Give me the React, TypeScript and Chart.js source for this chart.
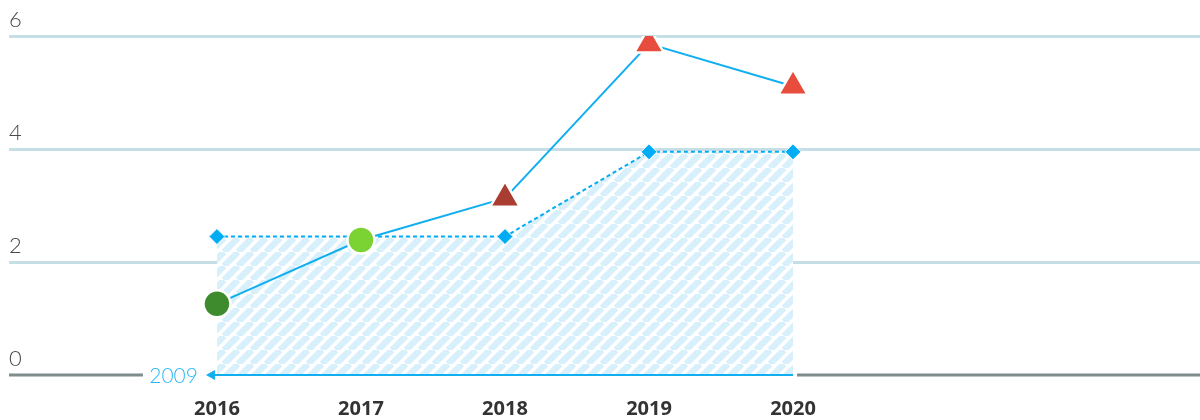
import React, { useEffect, useRef } from "react";
import { Chart, registerables } from "chart.js";

Chart.register(...registerables);

const years = [2016, 2017, 2018, 2019, 2020];
const actualValues = [1.26, 2.39, 3.13, 5.86, 5.11];
const targetValues = [2.45, 2.45, 2.45, 3.95, 3.95];
const pointColors = ["#3d8b2c", "#7ad332", "#a93d32", "#e74c3c", "#e74c3c"];
const pointStyles = ["circle", "circle", "triangle", "triangle", "triangle"];
const yTickValues = [0, 2, 4, 6];
const baselineLabel = "2009";
const xRange = [2014.556, 2022.826];

function makePattern(): CanvasPattern | string {
  const s = 14;
  const c = document.createElement("canvas");
  c.width = s;
  c.height = s;
  const g = c.getContext("2d");
  if (!g) return "#dcf1fb";
  g.fillStyle = "#ffffff";
  g.fillRect(0, 0, s, s);
  g.strokeStyle = "#d8f0fc";
  g.lineWidth = 6.5;
  g.beginPath();
  for (const o of [-s, 0, s]) {
    g.moveTo(o, s);
    g.lineTo(o + s, 0);
  }
  g.stroke();
  return g.createPattern(c, "repeat") || "#dcf1fb";
}

const baselinePlugin = {
  id: "baseline",
  afterDatasetsDraw(chart: any) {
    const { ctx, chartArea, scales } = chart;
    const y = scales.y.getPixelForValue(0);
    const xs = scales.x.getPixelForValue(years[0]);
    const xe = scales.x.getPixelForValue(years[years.length - 1]);
    ctx.save();
    ctx.lineWidth = 3;
    ctx.strokeStyle = "#7f8c8d";
    ctx.beginPath();
    ctx.moveTo(chartArea.left, y);
    ctx.lineTo(xs - 74, y);
    ctx.moveTo(xe + 4, y);
    ctx.lineTo(chartArea.right, y);
    ctx.stroke();
    ctx.strokeStyle = "#11aff0";
    ctx.lineWidth = 2;
    ctx.beginPath();
    ctx.moveTo(xs - 8, y);
    ctx.lineTo(xe, y);
    ctx.stroke();
    ctx.fillStyle = "#11aff0";
    ctx.beginPath();
    ctx.moveTo(xs - 11, y);
    ctx.lineTo(xs - 2, y - 5);
    ctx.lineTo(xs - 2, y + 5);
    ctx.closePath();
    ctx.fill();
    ctx.fillStyle = "#2fb8f4";
    ctx.font = "300 21px Lato, 'Open Sans', sans-serif";
    ctx.textAlign = "right";
    ctx.textBaseline = "middle";
    ctx.fillText(baselineLabel, xs - 19, y + 1);
    ctx.restore();
  },
};

export default function App() {
  const ref = useRef<HTMLCanvasElement>(null);
  useEffect(() => {
    if (!ref.current) return;
    const pattern = makePattern();
    const chart = new Chart(ref.current, {
      type: "line",
      data: {
        datasets: [
          {
            label: "Actual",
            data: years.map((x, i) => ({ x, y: actualValues[i] })),
            borderColor: "#11aff0",
            borderWidth: 2,
            fill: false,
            pointStyle: pointStyles as any,
            pointRadius: pointStyles.map((s) => (s === "circle" ? 13.5 : 17)),
            pointBackgroundColor: pointColors,
            pointBorderColor: "#ffffff",
            pointBorderWidth: 2.5,
            order: 1,
          },
          {
            label: "Target",
            data: years.map((x, i) => ({ x, y: targetValues[i] })),
            borderColor: "#00adf5",
            borderWidth: 2,
            borderDash: [4, 3],
            backgroundColor: pattern as any,
            fill: "origin",
            pointStyle: "rectRot",
            pointRadius: 8,
            pointBackgroundColor: "#00adf5",
            pointBorderColor: "#ffffff",
            pointBorderWidth: 1,
            order: 2,
          },
        ],
      },
      options: {
        animation: false,
        responsive: false,
        maintainAspectRatio: false,
        layout: { autoPadding: false, padding: { left: 9, right: 0, top: 36, bottom: 0 } },
        plugins: { legend: { display: false }, tooltip: { enabled: false } },
        scales: {
          x: {
            type: "linear",
            min: xRange[0],
            max: xRange[1],
            afterBuildTicks: (scale: any) => {
              scale.ticks = years.map((v) => ({ value: v }));
            },
            afterFit: (s: any) => {
              s.height = 45;
              s.paddingLeft = 0;
              s.paddingRight = 0;
            },
            grid: { display: false, drawTicks: false },
            border: { display: false },
            ticks: {
              padding: 22,
              color: "#333333",
              font: { family: "'Open Sans', sans-serif", size: 20, weight: "bold" },
              callback: (v: any) => String(v),
              autoSkip: false,
              maxRotation: 0,
            },
          },
          y: {
            min: 0,
            max: 6,
            afterBuildTicks: (scale: any) => {
              scale.ticks = yTickValues.map((v) => ({ value: v }));
            },
            afterFit: (s: any) => {
              s.width = 0;
              s.paddingTop = 0;
              s.paddingBottom = 0;
            },
            grid: {
              drawTicks: false,
              lineWidth: 3,
              color: (c: any) => (c.tick && c.tick.value === 0 ? "rgba(0,0,0,0)" : "#c6dfe6"),
            },
            border: { display: false },
            ticks: {
              mirror: true,
              padding: 0,
              labelOffset: -16,
              color: "#4a4a4a",
              font: { family: "Lato, 'Open Sans', sans-serif", size: 22, weight: "300" as any },
            },
          },
        },
      },
      plugins: [baselinePlugin],
    });
    return () => chart.destroy();
  }, []);
  return (
    <div style={{ position: "absolute", left: 0, top: 0, width: 1200, height: 420 }}>
      <canvas ref={ref} width={1200} height={420} style={{ display: "block" }} />
    </div>
  );
}
